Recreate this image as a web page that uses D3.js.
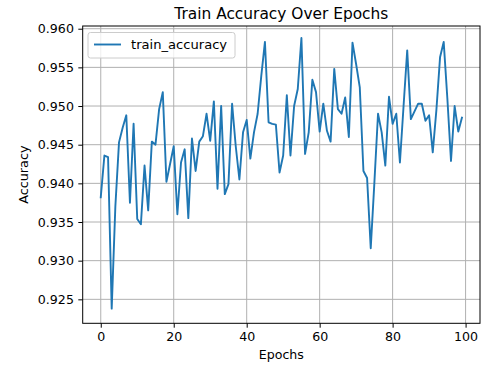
<!DOCTYPE html>
<html>
<head>
<meta charset="utf-8">
<script src="https://cdn.jsdelivr.net/npm/d3@7"></script>
<style>
  body { margin: 0; background: #fff; }
  svg { display: block; font-family: "DejaVu Sans", sans-serif; }
</style>
</head>
<body>
<div id="chart"></div>
<script>
const FRAME_WIDTH = 484;
const FRAME_HEIGHT = 369;
const PLOT = {left: 82.7, right: 480, top: 26, bottom: 323.3};

// data
const EPOCHS = d3.range(100);
const TRAIN_ACC = [
  0.9382, 0.9436, 0.9434, 0.9238, 0.9370, 0.9453, 0.9472, 0.9488, 0.9375, 0.9477,
  0.9354, 0.9347, 0.9423, 0.9365, 0.9454, 0.9450, 0.9496, 0.9518, 0.9402, 0.9425,
  0.9448, 0.9360, 0.9427, 0.9444, 0.9355, 0.9458, 0.9416, 0.9454, 0.9461, 0.9490,
  0.9455, 0.9506, 0.9393, 0.9500, 0.9386, 0.9399, 0.9503, 0.9448, 0.9405, 0.9466,
  0.9482, 0.9432, 0.9466, 0.9490, 0.9539, 0.9583, 0.9479, 0.9477, 0.9476, 0.9414,
  0.9436, 0.9514, 0.9436, 0.9500, 0.9522, 0.9588, 0.9438, 0.9466, 0.9534, 0.9518,
  0.9467, 0.9503, 0.9468, 0.9454, 0.9548, 0.9496, 0.9490, 0.9511, 0.9460, 0.9582,
  0.9554, 0.9524, 0.9416, 0.9407, 0.9316, 0.9401, 0.9490, 0.9466, 0.9423, 0.9512,
  0.9477, 0.9490, 0.9427, 0.9500, 0.9572, 0.9483, 0.9493, 0.9503, 0.9503, 0.9481,
  0.9488, 0.9440, 0.9495, 0.9563, 0.9583, 0.9510, 0.9429, 0.9500, 0.9467, 0.9485
];
const X_TICKS = [0, 20, 40, 60, 80, 100];
const Y_TICKS = [0.925, 0.930, 0.935, 0.940, 0.945, 0.950, 0.955, 0.960];
const SERIES_NAME = "train_accuracy";

const SVG = d3.select("#chart")
  .append("svg")
    .attr("width", FRAME_WIDTH)
    .attr("height", FRAME_HEIGHT);

const X_SCALE = d3.scaleLinear()
  .domain([-4.95, 103.95])
  .range([PLOT.left, PLOT.right]);

const Y_SCALE = d3.scaleLinear()
  .domain([0.9219, 0.96035])
  .range([PLOT.bottom, PLOT.top]);

// grid lines
SVG.append("g")
  .selectAll("line")
  .data(X_TICKS)
  .enter()
  .append("line")
    .attr("x1", d => X_SCALE(d))
    .attr("x2", d => X_SCALE(d))
    .attr("y1", PLOT.top)
    .attr("y2", PLOT.bottom)
    .attr("stroke", "#b0b0b0")
    .attr("stroke-width", 1);

SVG.append("g")
  .selectAll("line")
  .data(Y_TICKS)
  .enter()
  .append("line")
    .attr("x1", PLOT.left)
    .attr("x2", PLOT.right)
    .attr("y1", d => Y_SCALE(d))
    .attr("y2", d => Y_SCALE(d))
    .attr("stroke", "#b0b0b0")
    .attr("stroke-width", 1);

// the line
const line = d3.line()
  .x((d, i) => X_SCALE(EPOCHS[i]))
  .y(d => Y_SCALE(d));

SVG.append("path")
  .datum(TRAIN_ACC)
  .attr("d", line)
  .attr("fill", "none")
  .attr("stroke", "#1f77b4")
  .attr("stroke-width", 1.9)
  .attr("stroke-linejoin", "round")
  .attr("stroke-linecap", "square");

// axes
const xAxis = SVG.append("g")
  .attr("transform", "translate(0," + PLOT.bottom + ")")
  .call(d3.axisBottom(X_SCALE).tickValues(X_TICKS).tickSize(4.4).tickPadding(4.4));

const yAxis = SVG.append("g")
  .attr("transform", "translate(" + PLOT.left + ",0)")
  .call(d3.axisLeft(Y_SCALE).tickValues(Y_TICKS).tickFormat(d3.format(".3f")).tickSize(4.4).tickPadding(4.4));

[xAxis, yAxis].forEach(ax => {
  ax.select(".domain").remove();
  ax.attr("font-family", "DejaVu Sans").attr("font-size", "12.6px");
  ax.selectAll("text").attr("fill", "#000");
  ax.selectAll(".tick line").attr("stroke", "#000").attr("stroke-width", 1);
});

// frame
SVG.append("rect")
  .attr("x", PLOT.left)
  .attr("y", PLOT.top)
  .attr("width", PLOT.right - PLOT.left)
  .attr("height", PLOT.bottom - PLOT.top)
  .attr("fill", "none")
  .attr("stroke", "#000")
  .attr("stroke-width", 1);

// title and labels
SVG.append("text")
  .attr("x", (PLOT.left + PLOT.right) / 2)
  .attr("y", 18.5)
  .attr("text-anchor", "middle")
  .attr("font-size", "15.4px")
  .text("Train Accuracy Over Epochs");

SVG.append("text")
  .attr("x", (PLOT.left + PLOT.right) / 2)
  .attr("y", 358.5)
  .attr("text-anchor", "middle")
  .attr("font-size", "12.6px")
  .text("Epochs");

SVG.append("text")
  .attr("transform", "translate(27.5," + ((PLOT.top + PLOT.bottom) / 2) + ") rotate(-90)")
  .attr("text-anchor", "middle")
  .attr("font-size", "12.8px")
  .text("Accuracy");

// legend
const legend = SVG.append("g");
legend.append("rect")
  .attr("x", 88)
  .attr("y", 32.5)
  .attr("width", 147)
  .attr("height", 25.5)
  .attr("rx", 2.5)
  .attr("fill", "#fff")
  .attr("fill-opacity", 0.8)
  .attr("stroke", "#cccccc")
  .attr("stroke-width", 1);
legend.append("line")
  .attr("x1", 94)
  .attr("x2", 121)
  .attr("y1", 44.5)
  .attr("y2", 44.5)
  .attr("stroke", "#1f77b4")
  .attr("stroke-width", 1.9);
legend.append("text")
  .attr("x", 131)
  .attr("y", 49.2)
  .attr("font-size", "13.1px")
  .text(SERIES_NAME);
</script>
</body>
</html>
